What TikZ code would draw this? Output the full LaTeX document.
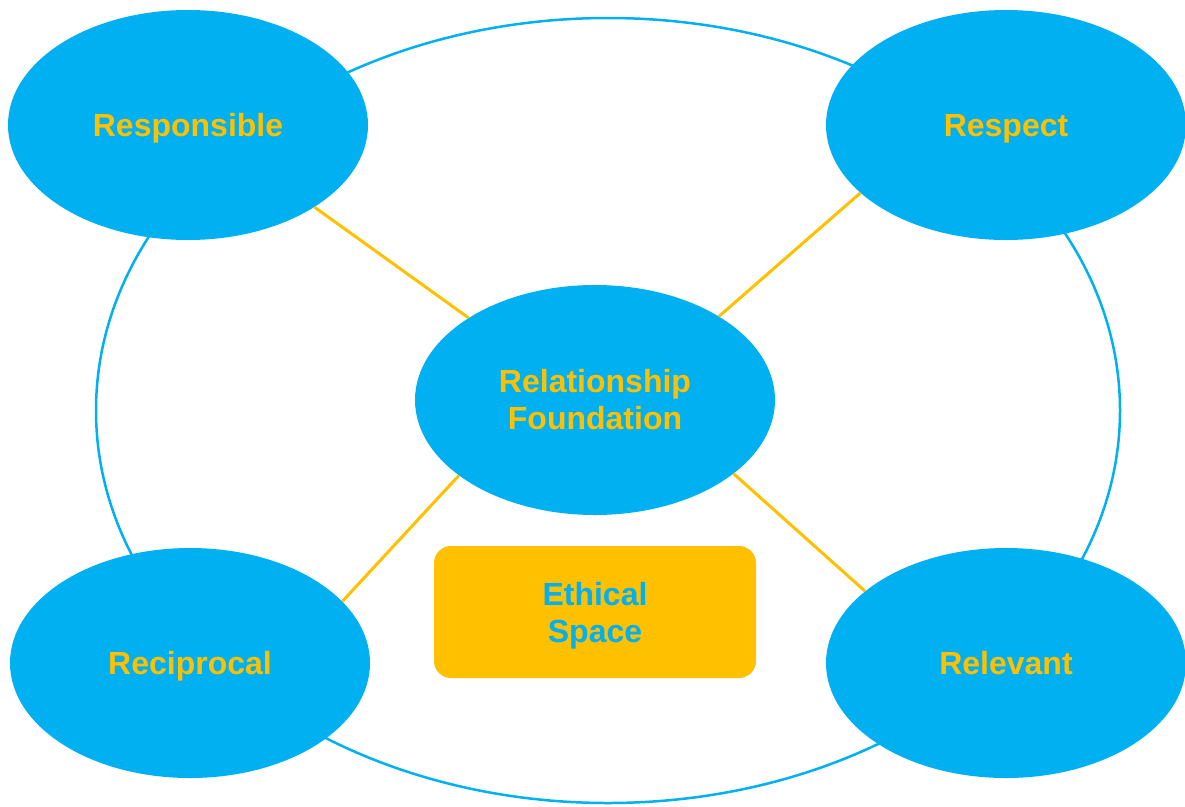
\documentclass[tikz,border=0pt]{standalone}
\usepackage{fontspec}
\setmainfont{Liberation Sans}
\usetikzlibrary{shapes.geometric}
\definecolor{skyblue}{HTML}{00B0F0}
\definecolor{gold}{HTML}{FFC000}
% a word whose descender should not push the text block upwards
\newcommand{\nodepth}[1]{\raisebox{0pt}[\height][0pt]{#1}}
\tikzset{
  label font/.style={font=\fontsize{32}{37}\selectfont\bfseries, align=center},
  value/.style={ellipse, fill=skyblue, minimum width=360pt, minimum height=230pt,
    inner sep=0pt, text=gold, label font},
  ring/.style={ellipse, draw=skyblue, line width=2.5pt, minimum width=1024pt,
    minimum height=785pt, inner sep=0pt},
  spacebox/.style={rectangle, rounded corners=17pt, fill=gold, minimum width=322pt,
    minimum height=132pt, inner sep=0pt, text=skyblue, label font},
  link/.style={draw=gold, line width=3pt}
}
\begin{document}
\begin{tikzpicture}[x=1pt, y=-1pt]
  \useasboundingbox (0,0) rectangle (1185,806);
  % outer ring
  \node[ring] (outer) at (608,410.5) {};
  % the five values
  \node[value] (resp) at (188,125) {\nodepth{Responsible}};
  \node[value] (respect) at (1006,125) {\nodepth{Respect}};
  \node[value] (found) at (595,400) {Relationship\\Foundation};
  \node[value] (recip) at (190,663) {\nodepth{Reciprocal}};
  \node[value] (relev) at (1006,663) {Relevant};
  % ethical space box
  \node[spacebox] (space) at (595,612) {Ethical\\\nodepth{Space}};
  % connectors from the foundation
  \draw[link] (found.147) -- (resp.-33.3);
  \draw[link] (found.34.4) -- (respect.205.3);
  \draw[link] (found.209.4) -- (recip.22.5);
  \draw[link] (found.-28.2) -- (relev.153.1);
\end{tikzpicture}
\end{document}
